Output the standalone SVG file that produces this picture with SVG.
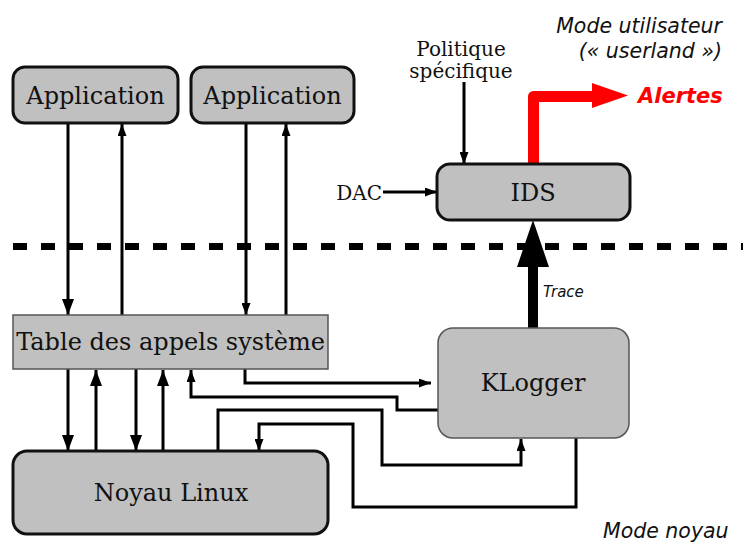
<svg xmlns="http://www.w3.org/2000/svg" width="743" height="543" viewBox="0 0 743 543">
  <defs>
    <marker id="big" markerWidth="16" markerHeight="12" refX="16" refY="6" orient="auto" markerUnits="userSpaceOnUse">
      <path d="M0,0 L16,6 L0,12 Z" fill="#000"/>
    </marker>
    <marker id="small" markerWidth="12" markerHeight="9" refX="12" refY="4.5" orient="auto" markerUnits="userSpaceOnUse">
      <path d="M0,0 L12,4.5 L0,9 Z" fill="#000"/>
    </marker>
  </defs>
  <style>
    .box { fill: #c0c0c0; stroke: #111; stroke-width: 3; }
    .thin { fill: #c0c0c0; stroke: #555; stroke-width: 1.5; }
    .lbl { font-family: "DejaVu Serif", serif; font-size: 24px; fill: #111; text-anchor: middle; }
    .small { font-family: "DejaVu Serif", serif; font-size: 20px; fill: #111; }
    .mode { font-family: "DejaVu Sans", sans-serif; font-style: italic; font-size: 20.5px; fill: #111; }
    .wire { fill: none; stroke: #000; stroke-width: 3; }
  </style>
  <rect width="743" height="543" fill="#fff"/>

  <!-- user / kernel boundary -->
  <line x1="13" y1="246.5" x2="743" y2="246.5" stroke="#000" stroke-width="7" stroke-dasharray="14 14"/>

  <g id="connectors">
    <!-- applications <-> syscall table -->
    <line class="wire" x1="68" y1="123" x2="68" y2="315" marker-end="url(#big)"/>
    <line class="wire" x1="122" y1="315" x2="122" y2="124" marker-end="url(#small)"/>
    <line class="wire" x1="246" y1="123" x2="246" y2="315" marker-end="url(#small)"/>
    <line class="wire" x1="286" y1="315" x2="286" y2="124" marker-end="url(#small)"/>
    <!-- syscall table <-> kernel -->
    <line class="wire" x1="68" y1="369" x2="68" y2="451" marker-end="url(#big)"/>
    <line class="wire" x1="96" y1="451" x2="96" y2="370" marker-end="url(#big)"/>
    <line class="wire" x1="136" y1="369" x2="136" y2="451" marker-end="url(#big)"/>
    <line class="wire" x1="163" y1="451" x2="163" y2="370" marker-end="url(#big)"/>
    <!-- KLogger hooks -->
    <path class="wire" d="M245,369 V383 H431" marker-end="url(#small)"/>
    <path class="wire" d="M438,410 H397 V397 H191 V370" marker-end="url(#small)"/>
    <path class="wire" d="M218,451 V410 H382 V465 H521 V439" marker-end="url(#small)"/>
    <path class="wire" d="M576,438 V507 H353 V424 H259 V451" marker-end="url(#small)"/>
    <!-- inputs of IDS -->
    <line class="wire" x1="383" y1="192" x2="437" y2="192" marker-end="url(#small)"/>
    <line class="wire" x1="464" y1="82" x2="464" y2="164" marker-end="url(#small)"/>
    <!-- trace to IDS -->
    <line x1="533" y1="328" x2="533" y2="266" stroke="#000" stroke-width="10"/>
    <polygon points="517,267 549,267 533,220" fill="#000"/>
    <!-- alerts -->
    <path d="M533.5,164 V96.5 H593" fill="none" stroke="#f00" stroke-width="11" stroke-linejoin="round"/>
    <polygon points="592,83 592,108 628,95.5" fill="#f00"/>
  </g>

  <g id="app1">
    <rect class="box" x="13" y="67" width="165" height="56" rx="12"/>
    <text class="lbl" x="95.5" y="104">Application</text>
  </g>
  <g id="app2">
    <rect class="box" x="191" y="67" width="163" height="56" rx="12"/>
    <text class="lbl" x="272.5" y="104">Application</text>
  </g>
  <g id="ids">
    <rect class="box" x="437" y="164" width="193" height="56" rx="13"/>
    <text class="lbl" x="533" y="201">IDS</text>
  </g>
  <g id="syscalls">
    <rect class="thin" x="13" y="315" width="315" height="54"/>
    <text class="lbl" x="170.5" y="350">Table des appels système</text>
  </g>
  <g id="klogger">
    <rect class="thin" x="438" y="328" width="191" height="110" rx="15" stroke="#222"/>
    <text class="lbl" x="533" y="391">KLogger</text>
  </g>
  <g id="kernel">
    <rect class="box" x="13" y="451" width="315" height="83" rx="14"/>
    <text class="lbl" x="171" y="501">Noyau Linux</text>
  </g>

  <g id="labels">
    <text class="small" x="461" y="56" text-anchor="middle">Politique</text>
    <text class="small" x="461" y="78" text-anchor="middle">spécifique</text>
    <text class="small" x="382" y="200" text-anchor="end">DAC</text>
    <text class="mode" x="722" y="33" text-anchor="end">Mode utilisateur</text>
    <text class="mode" x="722" y="58" text-anchor="end">(« userland »)</text>
    <text x="638" y="103" font-family="DejaVu Sans, sans-serif" font-style="italic" font-weight="bold" font-size="21" fill="#f00">Alertes</text>
    <text x="543" y="297" font-family="DejaVu Sans, sans-serif" font-style="italic" font-size="15" fill="#111">Trace</text>
    <text class="mode" x="603" y="538" font-size="22.5">Mode noyau</text>
  </g>
</svg>
